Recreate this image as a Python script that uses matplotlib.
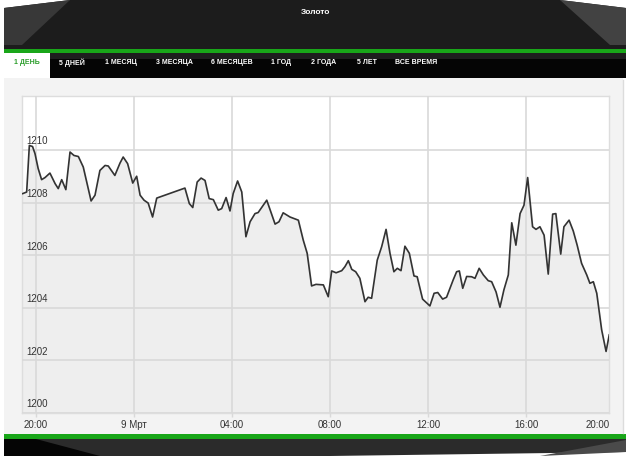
import numpy as np
import matplotlib.pyplot as plt
from matplotlib.patches import Polygon, Rectangle

# Gold price, 1 day view. Time is hours after 20:00 (8 March)
hours = [-0.54, -0.38, -0.27, -0.14, -0.04, 0.09, 0.23, 0.37, 0.57, 0.78, 0.91, 1.05, 1.22,
         1.39, 1.55, 1.73, 1.93, 2.25, 2.41, 2.61, 2.82, 2.95, 3.22, 3.43, 3.56, 3.74, 3.95,
         4.11, 4.25, 4.41, 4.58, 4.76, 4.93, 6.08, 6.26, 6.40, 6.58, 6.74, 6.90, 7.07, 7.24,
         7.44, 7.58, 7.76, 7.92, 8.05, 8.23, 8.40, 8.57, 8.74, 8.94, 9.07, 9.42, 9.76, 9.92,
         10.09, 10.37, 10.71, 10.91, 11.07, 11.25, 11.43, 11.73, 11.93, 12.07, 12.25, 12.48,
         12.61, 12.75, 12.89, 13.05, 13.22, 13.43, 13.56, 13.70, 13.93, 14.11, 14.29, 14.45,
         14.61, 14.75, 14.90, 15.06, 15.24, 15.43, 15.56, 15.78, 16.08, 16.25, 16.40, 16.60,
         16.76, 17.03, 17.17, 17.28, 17.42, 17.58, 17.78, 17.92, 18.09, 18.26, 18.46, 18.60,
         18.78, 18.94, 19.10, 19.28, 19.42, 19.59, 19.76, 19.92, 20.07, 20.27, 20.41, 20.57,
         20.74, 20.91, 21.09, 21.22, 21.42, 21.55, 21.76, 21.93, 22.09, 22.27, 22.48, 22.61,
         22.75, 22.89, 23.09, 23.27, 23.40]
price = [1208.34, 1208.40, 1210.17, 1210.13, 1209.86, 1209.29, 1208.87, 1208.95, 1209.12,
         1208.72, 1208.53, 1208.87, 1208.49, 1209.92, 1209.79, 1209.75, 1209.35, 1208.06,
         1208.28, 1209.22, 1209.41, 1209.39, 1209.03, 1209.50, 1209.73, 1209.48, 1208.74,
         1209.00, 1208.28, 1208.09, 1207.98, 1207.45, 1208.17, 1208.55, 1207.96, 1207.81,
         1208.78, 1208.93, 1208.84, 1208.15, 1208.11, 1207.71, 1207.77, 1208.19, 1207.68,
         1208.34, 1208.82, 1208.40, 1206.70, 1207.27, 1207.58, 1207.62, 1208.09, 1207.18,
         1207.27, 1207.61, 1207.45, 1207.33, 1206.57, 1206.07, 1204.83, 1204.89, 1204.87,
         1204.42, 1205.40, 1205.33, 1205.41, 1205.56, 1205.79, 1205.46, 1205.37, 1205.12,
         1204.23, 1204.40, 1204.36, 1205.81, 1206.32, 1206.98, 1206.07, 1205.37, 1205.50,
         1205.41, 1206.34, 1206.07, 1205.21, 1205.18, 1204.33, 1204.07, 1204.55, 1204.58,
         1204.33, 1204.40, 1205.06, 1205.37, 1205.40, 1204.74, 1205.19, 1205.18, 1205.12,
         1205.50, 1205.25, 1205.03, 1204.99, 1204.60, 1204.02, 1204.68, 1205.25, 1207.23,
         1206.38, 1207.58, 1207.90, 1208.95, 1207.08, 1206.98, 1207.08, 1206.76, 1205.28,
         1207.56, 1207.58, 1206.04, 1207.08, 1207.33, 1206.92, 1206.38, 1205.69, 1205.25,
         1204.93, 1204.99, 1204.55, 1203.16, 1202.34, 1202.97]

x_ticks = [0, 4, 8, 12, 16, 20]
x_labels = ["20:00", "9 Мрт", "04:00", "08:00", "12:00", "16:00"]
last_label = (22.94, "20:00")
y_ticks = [1200, 1202, 1204, 1206, 1208, 1210]

title = "Золото"
tabs = ["1 ДЕНЬ", "5 ДНЕЙ", "1 МЕСЯЦ", "3 МЕСЯЦА", "6 МЕСЯЦЕВ", "1 ГОД", "2 ГОДА", "5 ЛЕТ", "ВСЕ ВРЕМЯ"]
tab_x = [27, 72, 121, 174, 232, 281, 324, 367, 416]

plt.rcParams['font.family'] = ['Liberation Sans', 'DejaVu Sans']

fig = plt.figure(figsize=(6.4, 4.69), dpi=100)
fig.patch.set_facecolor('white')

# background "widget" drawn in pixel coordinates
bg = fig.add_axes([0, 0, 1, 1], zorder=0)
bg.set_xlim(0, 640)
bg.set_ylim(469, 0)
bg.axis('off')

# panel
bg.add_patch(Rectangle((4, 77), 619, 357, facecolor='#f3f3f3', edgecolor='none'))
bg.plot([623, 623], [80, 433], color='#dcdcdc', lw=1)

# header
bg.add_patch(Polygon([(4, 8), (70, 0), (560, 0), (626, 8), (626, 49), (4, 49)],
                     facecolor='#1c1c1c', edgecolor='none'))
bg.add_patch(Polygon([(4, 8), (70, 0), (22, 45), (4, 45)], facecolor='#383838', edgecolor='none'))
bg.add_patch(Polygon([(560, 0), (626, 8), (626, 45), (610, 45)], facecolor='#424242', edgecolor='none'))
bg.text(316, 13, title, color='white', fontsize=6, fontweight='bold', ha='center', va='center')

# green stripe + tabs
bg.add_patch(Rectangle((4, 49), 622, 4, facecolor='#19a619', edgecolor='none'))
bg.add_patch(Rectangle((4, 53), 622, 25, facecolor='#050505', edgecolor='none'))
bg.add_patch(Rectangle((4, 53), 622, 6, facecolor='#1e1e1e', edgecolor='none'))
bg.add_patch(Rectangle((4, 53), 46, 25, facecolor='white', edgecolor='none'))
for i, (lab, tx) in enumerate(zip(tabs, tab_x)):
    bg.text(tx, 63, lab, color='#2a9d2a' if i == 0 else 'white', fontsize=5,
            fontweight='bold', ha='center', va='center')

# footer
bg.add_patch(Rectangle((4, 434), 622, 5, facecolor='#19a619', edgecolor='none'))
bg.add_patch(Polygon([(4, 439), (626, 439), (626, 452), (330, 456), (4, 456)],
                     facecolor='#2b2b2b', edgecolor='none'))
bg.add_patch(Polygon([(4, 439), (36, 439), (100, 456), (4, 456)], facecolor='#050505', edgecolor='none'))
bg.add_patch(Polygon([(540, 456), (626, 440), (626, 452)], facecolor='#4a4a4a', edgecolor='none'))

# chart
ax = fig.add_axes([22 / 640, 1 - 413 / 469, 587 / 640, 317 / 469], zorder=1)
ax.set_facecolor('white')
ax.fill_between(hours, price, 1200, color='#eeeeee', zorder=1)
ax.plot(hours, price, color='#333333', lw=1.2, zorder=3)
ax.set_xlim(-0.57, 23.39)
ax.set_ylim(1200, 1212.05)

ax.set_xticks(x_ticks)
ax.set_xticklabels(x_labels)
ax.set_yticks(y_ticks)
ax.set_yticklabels([])
ax.grid(True, color='#d9d9d9', lw=1.2, zorder=2)
ax.set_axisbelow(False)
ax.tick_params(axis='x', length=3, width=1, color='#d9d9d9', pad=2, labelsize=7, labelcolor='#333333')
ax.tick_params(axis='y', length=0)
for s in ax.spines.values():
    s.set_color('#dddddd')
    s.set_linewidth(1)

for v in y_ticks:
    ax.annotate(str(v), xy=(0, v), xycoords=('axes fraction', 'data'), xytext=(3, 4),
                textcoords='offset points', fontsize=7, color='#333333', va='baseline', zorder=4)

ax.annotate(last_label[1], xy=(last_label[0], 0), xycoords=('data', 'axes fraction'),
            xytext=(0, -5), textcoords='offset points', ha='center', va='top',
            fontsize=7, color='#333333', annotation_clip=False)

fig.savefig('out.png', dpi=100)
